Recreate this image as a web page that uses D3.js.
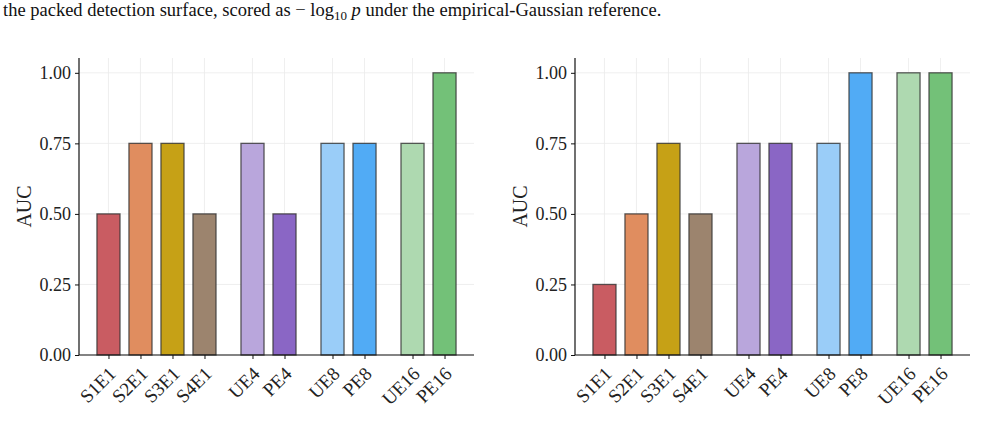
<!DOCTYPE html>
<html><head><meta charset="utf-8">
<script src="https://cdn.jsdelivr.net/npm/d3@7"></script>
<style>body{margin:0;background:#fff;} svg{display:block;}</style>
</head><body>
<svg id="c" width="984" height="431"></svg>
<script>
const categories = ["S1E1","S2E1","S3E1","S4E1","UE4","PE4","UE8","PE8","UE16","PE16"];
const positions = [0,1,2,3,4.5,5.5,7,8,9.5,10.5];
const leftValues = [0.5,0.75,0.75,0.5,0.75,0.5,0.75,0.75,0.75,1.0];
const rightValues = [0.25,0.5,0.75,0.5,0.75,0.75,0.75,1.0,1.0,1.0];
const colors = ["#c95c62","#e08d5f","#c6a116","#9c846e","#b9a6dc","#8a66c5","#9acdf8","#51abf5","#aed9b0","#73c178"];
const yTicks = [0,0.25,0.5,0.75,1.0];

const svg = d3.select("#c");
const serif = "'Liberation Serif','DejaVu Serif',serif";

// caption
const cap = svg.append("text").attr("x",3).attr("y",16).attr("font-family",serif).attr("font-size",18.5).attr("fill","#111");
cap.append("tspan").text("the packed detection surface, scored as \u2212 log");
cap.append("tspan").attr("font-size",13).attr("dy",4).text("10");
cap.append("tspan").attr("dy",-4).text(" ");
cap.append("tspan").attr("font-style","italic").text("p");
cap.append("tspan").text(" under the empirical-Gaussian reference.");

const bw = 0.72;
const panels = [{x0:79, vals:leftValues},{x0:575, vals:rightValues}];
const W = 395, yTop = 58, yBot = 355;

panels.forEach(p=>{
  const g = svg.append("g");
  const x = d3.scaleLinear().domain([-0.921, 11.421]).range([p.x0, p.x0+W]);
  const y = d3.scaleLinear().domain([0,1.0525]).range([yBot, yTop]);
  g.selectAll(".hg").data(yTicks).join("line")
    .attr("x1",p.x0).attr("x2",p.x0+W).attr("y1",d=>y(d)).attr("y2",d=>y(d))
    .attr("stroke","#ebebeb").attr("stroke-width",0.8);
  g.selectAll(".vg").data(positions).join("line")
    .attr("x1",d=>x(d)).attr("x2",d=>x(d)).attr("y1",yTop).attr("y2",yBot)
    .attr("stroke","#ebebeb").attr("stroke-width",0.8);
  g.selectAll(".bar").data(p.vals).join("rect")
    .attr("x",(d,i)=>x(positions[i]-bw/2)).attr("width",x(bw)-x(0))
    .attr("y",d=>y(d)).attr("height",d=>y(0)-y(d))
    .attr("fill",(d,i)=>colors[i]).attr("stroke","#333").attr("stroke-opacity",0.8).attr("stroke-width",1.3);
  const ya = g.append("g").attr("transform",`translate(${p.x0},0)`)
    .call(d3.axisLeft(y).tickValues(yTicks).tickFormat(d3.format(".2f")).tickSize(4).tickPadding(4));
  ya.select(".domain").attr("d",`M0,${yTop}V${yBot}`).attr("stroke","#111").attr("stroke-width",1.2);
  ya.selectAll(".tick line").attr("stroke","#111").attr("stroke-width",1);
  ya.selectAll(".tick text").attr("font-family",serif).attr("font-size",18).attr("fill","#222");
  const xa = g.append("g").attr("transform",`translate(0,${yBot})`)
    .call(d3.axisBottom(x).tickValues(positions).tickFormat((d,i)=>categories[i]).tickSize(4));
  xa.select(".domain").attr("d",`M${p.x0},0H${p.x0+W}`).attr("stroke","#111").attr("stroke-width",1.2);
  xa.selectAll(".tick line").attr("stroke","#111").attr("stroke-width",1);
  xa.selectAll(".tick text").attr("font-family",serif).attr("font-size",19).attr("fill","#222")
    .attr("text-anchor","end").attr("dy",null).attr("y",null)
    .attr("transform","translate(8,20) rotate(-45)");
  g.append("text").attr("transform",`translate(${p.x0-55},${(yTop+yBot)/2}) rotate(-90)`)
    .attr("text-anchor","middle").attr("dominant-baseline","central")
    .attr("font-family",serif).attr("font-size",20).attr("fill","#222").text("AUC");
});
</script>
</body></html>
